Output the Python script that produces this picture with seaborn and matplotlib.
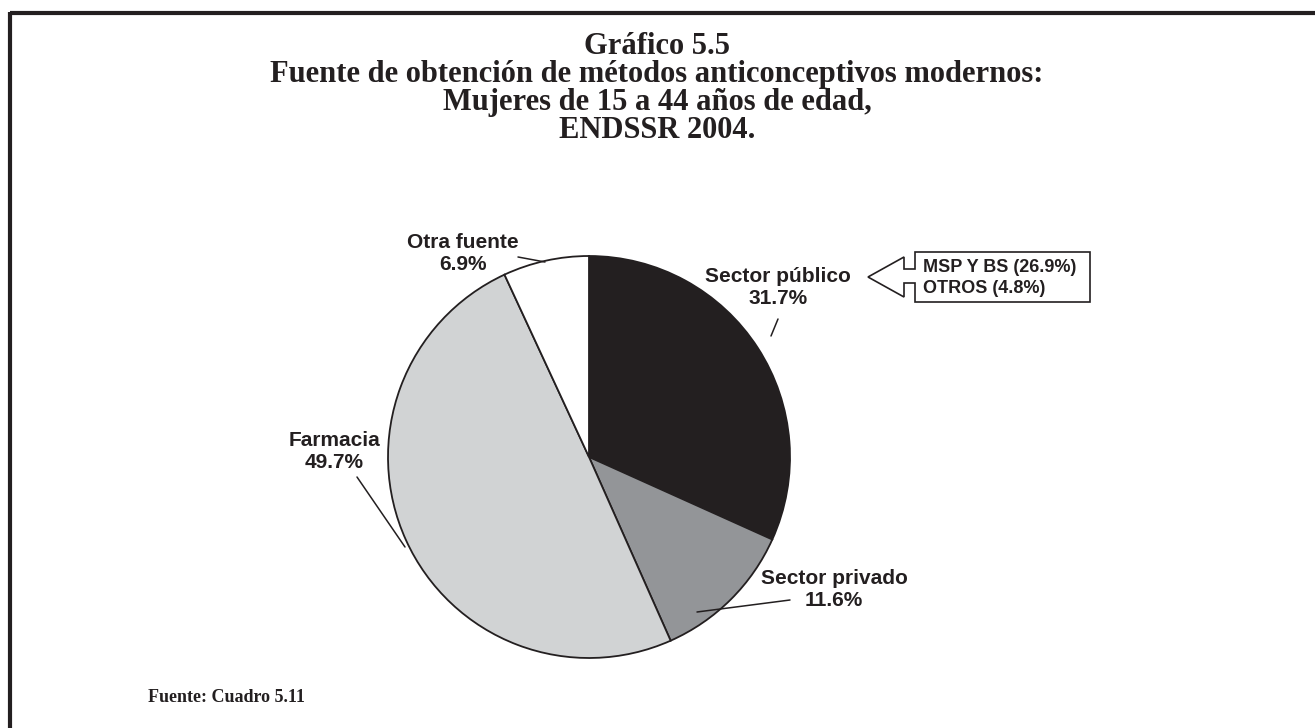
import matplotlib
matplotlib.use("Agg")
import matplotlib.pyplot as plt
import seaborn as sns
from matplotlib.lines import Line2D
from matplotlib.patches import Polygon

# data
sources = ['Sector público', 'Sector privado', 'Farmacia', 'Otra fuente']
shares = [31.7, 11.6, 49.7, 6.9]
slice_colors = ['#231f20', '#939598', '#d1d3d4', '#ffffff']
public_detail = ['MSP Y BS', 'OTROS']
public_detail_values = [26.9, 4.8]

sns.set_theme(style="white")
plt.rcParams['font.family'] = ['Liberation Sans', 'DejaVu Sans']

W, H = 1315, 728
fig = plt.figure(figsize=(W / 100, H / 100), dpi=100)

# pie axes: centre (589, 457) px, radius 201 px
cx, cy, r = 589, 457, 201
ax = fig.add_axes([(cx - r) / W, (H - cy - r) / H, 2 * r / W, 2 * r / H])
wedges, _ = ax.pie(shares, colors=slice_colors, startangle=90, counterclock=False,
                   wedgeprops=dict(edgecolor='#231f20', linewidth=1.3))
ax.set_xlim(-1, 1)
ax.set_ylim(-1, 1)
ax.axis('off')


def d(px, py):
    return ((px - cx) / r, (cy - py) / r)


lab_font = dict(fontsize=15, fontweight='bold', color='#231f20', ha='center', va='center',
                linespacing=1.2)
label_pos = [(778, 287), (834, 589), (334, 451), (463, 253)]
leaders = [((778, 319), (771, 336)), ((790, 600), (697, 612)),
           ((357, 477), (405, 547)), ((518, 257), (545, 262))]
for name, val, (px, py), (p0, p1) in zip(sources, shares, label_pos, leaders):
    ax.text(*d(px, py), f'{name}\n{val:.1f}%', **lab_font)
    a, b = d(*p0), d(*p1)
    ax.add_line(Line2D([a[0], b[0]], [a[1], b[1]], color='#231f20', lw=1.1, clip_on=False))

# callout arrow box for Sector público breakdown
pts = [(915, 252), (1090, 252), (1090, 302), (915, 302), (915, 283), (904, 283),
       (904, 297), (868, 277), (904, 257), (904, 269), (915, 269)]
poly = Polygon([(x / W, 1 - y / H) for x, y in pts], closed=True, transform=fig.transFigure,
               facecolor='white', edgecolor='#231f20', lw=1.2)
fig.patches.append(poly)
for i, (n, v) in enumerate(zip(public_detail, public_detail_values)):
    fig.text(923 / W, 1 - (267 + 22 * i) / H, f'{n} ({v}%)', fontsize=13, fontweight='bold',
             color='#231f20', ha='left', va='center')

# titles
title_lines = ['Gráfico 5.5',
               'Fuente de obtención de métodos anticonceptivos modernos:',
               'Mujeres de 15 a 44 años de edad,',
               'ENDSSR 2004.']
for i, t in enumerate(title_lines):
    fig.text(657 / W, 1 - (47 + 27.7 * i) / H, t, fontsize=22, fontweight='bold',
             family='Liberation Serif', color='#231f20', ha='center', va='center')

fig.text(148 / W, 1 - 697 / H, 'Fuente: Cuadro 5.11', fontsize=13, fontweight='bold',
         family='Liberation Serif', color='#231f20', ha='left', va='center')

# frame
fig.add_artist(Line2D([10 / W, 1], [1 - 13 / H, 1 - 13 / H], color='#231f20', lw=3,
                      solid_capstyle='butt', transform=fig.transFigure))
fig.add_artist(Line2D([10 / W, 10 / W], [1 - 11.5 / H, 0], color='#231f20', lw=3,
                      solid_capstyle='butt', transform=fig.transFigure))

fig.savefig('out.png', dpi=100)
